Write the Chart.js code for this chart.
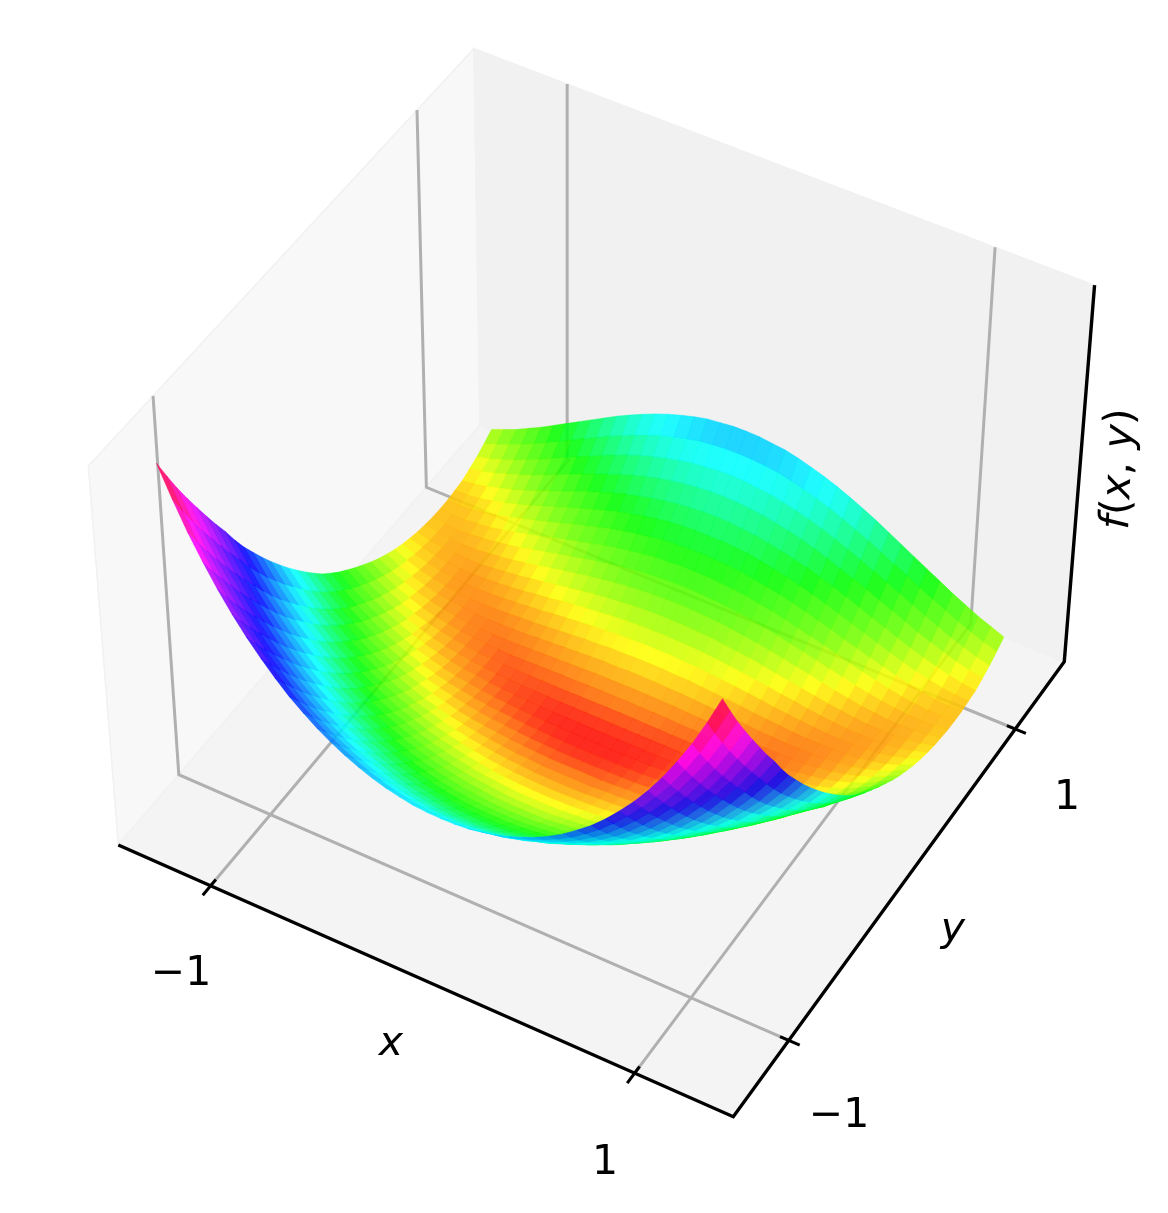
<!DOCTYPE html>
<html>
<head>
<meta charset="utf-8">
<title>f(x, y) surface</title>
<script src="https://cdn.jsdelivr.net/npm/chart.js@4/dist/chart.umd.min.js"></script>
<style>
  html, body { margin: 0; background: #fff; }
  canvas { display: block; }
</style>
</head>
<body>
<canvas id="chart" width="1168" height="1213"></canvas>
<script>
/* values */
const xGrid = [-1.27,-1.207,-1.144,-1.081,-1.018,-0.955,-0.892,-0.829,-0.766,-0.703,-0.64,-0.577,-0.514,-0.451,-0.388,-0.325,-0.262,-0.199,-0.136,-0.073,-0.01,
  0.053,0.116,0.179,0.242,0.305,0.368,0.431,0.494,0.557,0.62,0.683,0.746,0.809,0.872,0.935,0.998,1.061,1.124,1.187,1.25];
const yGrid = [-1.26,-1.197,-1.134,-1.071,-1.008,-0.945,-0.882,-0.819,-0.756,-0.693,-0.63,-0.567,-0.504,-0.441,-0.378,-0.315,-0.252,-0.189,-0.126,-0.063,0,
  0.063,0.126,0.189,0.252,0.315,0.378,0.441,0.504,0.567,0.63,0.693,0.756,0.819,0.882,0.945,1.008,1.071,1.134,1.197,1.26];
// one row per y, from the middle of x out to the edge, the surface is even in x
const zHalf = [
  [350,351,354,361,369,380,394,410,429,451,477,505,538,575,615,660,710,766,827,896,971],
  [318,319,322,329,336,347,360,376,394,415,440,467,499,534,573,616,664,718,777,843,915],
  [288,289,292,298,305,315,328,343,360,380,404,430,461,495,532,574,621,673,729,792,861],
  [260,260,263,269,276,286,297,312,328,347,370,395,424,457,493,534,578,629,683,744,811],
  [232,233,236,242,248,257,268,282,298,316,338,362,390,421,456,495,538,586,639,698,763],
  [207,208,210,216,222,230,241,254,269,286,307,330,356,386,420,457,499,545,596,653,716],
  [183,184,186,191,197,205,215,227,242,258,278,299,325,353,385,421,461,506,555,610,670],
  [161,162,164,168,174,182,191,202,216,231,250,271,295,322,353,387,425,468,515,568,627],
  [140,141,143,147,152,159,168,179,192,206,224,243,266,292,321,354,390,431,475,525,580],
  [121,122,124,128,132,139,147,157,169,183,200,218,239,264,292,323,357,396,437,485,537],
  [104,104,106,110,114,120,128,137,148,161,177,194,214,237,264,293,326,363,402,447,498],
  [88,88,90,94,97,103,110,119,129,141,155,171,190,212,237,265,296,332,369,412,460],
  [74,74,76,79,82,88,94,102,111,122,136,150,168,189,212,238,268,302,337,378,424],
  [61,62,63,66,69,74,80,87,95,105,118,131,148,167,189,213,241,273,307,346,390],
  [50,51,52,54,57,61,67,73,81,90,101,114,129,147,167,190,216,246,278,315,357],
  [41,41,42,45,47,51,55,61,68,76,87,98,112,128,147,168,193,221,251,286,326],
  [34,34,34,37,38,42,46,51,57,64,73,83,96,111,128,148,171,198,225,258,296],
  [28,28,28,30,32,34,38,42,47,53,62,71,82,96,112,130,151,176,202,233,268],
  [23,23,24,25,26,29,32,35,39,45,52,60,70,82,96,113,133,155,179,208,241],
  [21,21,21,22,23,25,27,30,33,38,44,50,59,70,83,98,116,138,160,187,218],
  [20,20,20,21,21,23,24,26,29,32,37,43,50,60,71,85,101,121,142,166,196],
  [21,21,21,21,21,22,23,24,26,28,33,37,43,51,61,73,87,105,125,149,177],
  [23,23,23,23,23,23,24,24,25,26,30,33,38,44,52,63,75,91,110,132,158],
  [28,28,27,27,26,26,26,26,26,26,28,30,34,39,46,54,65,79,96,116,141],
  [34,33,33,33,31,31,30,29,28,27,28,29,32,35,40,47,56,69,83,102,124],
  [41,41,40,40,38,37,35,34,32,31,30,30,31,33,37,42,50,60,73,89,109],
  [51,51,49,49,47,45,43,40,38,35,34,32,32,33,35,39,44,53,64,78,96],
  [62,62,60,60,57,55,52,49,45,42,40,37,35,35,35,37,41,48,56,69,84],
  [75,75,73,72,69,66,63,59,55,50,47,43,40,38,37,37,39,44,51,61,74],
  [90,89,88,86,83,79,75,71,66,60,56,50,46,43,40,39,39,42,47,55,66],
  [106,106,104,102,98,94,90,84,78,72,66,60,54,50,45,42,41,42,45,50,59],
  [125,124,122,120,116,111,106,100,93,86,79,71,64,58,52,48,44,44,44,48,55],
  [145,144,142,139,135,130,124,117,109,101,93,84,76,68,61,55,50,47,45,47,51],
  [166,166,163,161,156,150,144,136,127,118,109,99,89,80,71,63,56,52,48,48,50],
  [190,189,187,184,178,172,165,157,147,137,127,115,105,94,84,74,65,59,53,50,50],
  [215,215,212,209,203,196,188,179,169,158,146,134,122,109,97,86,75,67,59,55,53],
  [243,242,239,235,229,222,214,204,192,180,168,154,140,127,113,100,88,78,68,61,56],
  [274,273,270,266,259,252,243,232,220,206,193,178,163,148,133,118,105,93,81,72,65],
  [307,306,302,298,291,283,273,262,249,235,220,203,187,171,154,138,123,108,95,83,75],
  [341,340,337,333,325,316,306,294,280,264,249,231,213,195,177,160,143,127,112,99,88],
  [378,377,373,369,361,351,340,327,312,296,279,260,241,222,203,184,165,148,131,117,103]
];
const zRows = zHalf.map(r => [...r.slice(1).reverse(), ...r]);
const xLim = [-1.45, 1.45];
const yLim = [-1.46, 1.46];
const zLim = [0, 1000];
const xTicks = [-1, 1];
const yTicks = [-1, 1];

/* colormap: z -> position on the rainbow */
const cmapZ = [0, 20, 24, 30, 40, 50, 70, 89, 120, 200, 300, 370, 500, 700, 800, 900, 1000];
const cmapC = [0, 0.005, 0.035, 0.07, 0.1, 0.125, 0.17, 0.21, 0.26, 0.35, 0.48, 0.54, 0.65, 0.78, 0.85, 0.93, 0.99];

/* camera fitted to the box corners */
const cam = {
  a: 586.9, b: 397.33, c: 118.3, p: -35.39,
  d: 228.93, e: -388.45, f: 845, q: -407.43,
  g: -0.0383, h: 0.07424, i: -0.061
};

function project(x, y, z) {
  const u = (x - xLim[0]) / (xLim[1] - xLim[0]);
  const v = (y - yLim[0]) / (yLim[1] - yLim[0]);
  const w = (z - zLim[0]) / (zLim[1] - zLim[0]);
  const D = 1 + cam.g * u + cam.h * v + cam.i * w;
  return {
    x: (cam.a * u + cam.b * v + cam.c + cam.p * w) / D,
    y: (cam.d * u + cam.e * v + cam.f + cam.q * w) / D,
    depth: D
  };
}

function colorFor(z, alpha) {
  let k = 0;
  while (k < cmapZ.length - 2 && z > cmapZ[k + 1]) k++;
  const t = (z - cmapZ[k]) / (cmapZ[k + 1] - cmapZ[k]);
  const c = cmapC[k] + t * (cmapC[k + 1] - cmapC[k]);
  return `hsla(${(c * 360).toFixed(1)},100%,50%,${alpha})`;
}

function polyDataset(pts, fillColor, lineColor, lineWidth) {
  return {
    data: pts.map(p => ({ x: p.x, y: p.y })),
    showLine: true, pointRadius: 0, tension: 0,
    fill: fillColor ? "shape" : false,
    backgroundColor: fillColor || "transparent",
    borderColor: lineColor, borderWidth: lineWidth,
    borderCapStyle: "butt"
  };
}

/* surface cells, painter's order */
const cells = [];
for (let j = 0; j < yGrid.length - 1; j++) {
  for (let k = 0; k < xGrid.length - 1; k++) {
    const corners = [
      project(xGrid[k], yGrid[j], zRows[j][k]),
      project(xGrid[k + 1], yGrid[j], zRows[j][k + 1]),
      project(xGrid[k + 1], yGrid[j + 1], zRows[j + 1][k + 1]),
      project(xGrid[k], yGrid[j + 1], zRows[j + 1][k])
    ];
    const zMean = (zRows[j][k] + zRows[j][k + 1] + zRows[j + 1][k + 1] + zRows[j + 1][k]) / 4;
    const depth = corners.reduce((s, p) => s + p.depth, 0) / 4;
    cells.push({ pts: [...corners, corners[0]], color: colorFor(zMean, 0.87), depth });
  }
}
cells.sort((a, b) => a.depth - b.depth); // nearest first, chart.js paints dataset 0 last

const datasets = cells.map(c => polyDataset(c.pts, c.color, c.color, 0.5));

/* axis lines and ticks */
const [x0, x1] = xLim, [y0, y1] = yLim, [z0, z1] = zLim;
const AXIS = "#000000", GRID = "#b0b0b0";
datasets.push(polyDataset([project(x0, y0, z0), project(x1, y0, z0), project(x1, y1, z0), project(x1, y1, z1)], null, AXIS, 3.4));
xTicks.forEach(t => datasets.push(polyDataset([project(t, y0 - 0.06, z0), project(t, y0 + 0.04, z0)], null, AXIS, 3)));
yTicks.forEach(t => datasets.push(polyDataset([project(x1 - 0.04, t, z0), project(x1 + 0.05, t, z0)], null, AXIS, 3)));

/* grid */
xTicks.forEach(t => datasets.push(polyDataset([project(t, y0, z0), project(t, y1, z0), project(t, y1, z1)], null, GRID, 3)));
yTicks.forEach(t => datasets.push(polyDataset([project(x1, t, z0), project(x0, t, z0), project(x0, t, z1)], null, GRID, 3)));

/* panes */
const pane = (pts, col) => polyDataset([...pts, pts[0]], col, "#f1f1f1", 1.5);
datasets.push(pane([project(x0, y0, z0), project(x1, y0, z0), project(x1, y1, z0), project(x0, y1, z0)], "#f4f4f4"));
datasets.push(pane([project(x0, y1, z0), project(x1, y1, z0), project(x1, y1, z1), project(x0, y1, z1)], "#f1f1f1"));
datasets.push(pane([project(x0, y0, z0), project(x0, y1, z0), project(x0, y1, z1), project(x0, y0, z1)], "#f8f8f8"));

const UP = "41px 'DejaVu Sans'";
const IT = "italic 41px 'DejaVu Sans'";
const axisLabels = [
  { parts: [["\u22121", UP]], x: 181, y: 974 },
  { parts: [["1", UP]], x: 605, y: 1163 },
  { parts: [["\u22121", UP]], x: 839, y: 1116 },
  { parts: [["1", UP]], x: 1067, y: 798 },
  { parts: [["x", IT]], x: 391, y: 1044 },
  { parts: [["y", IT]], x: 953, y: 930 },
  { parts: [["f", IT], ["(", UP], ["x", IT], [", ", UP], ["y", IT], [")", UP]], x: 1120, y: 469, rotate: -87.5 * Math.PI / 180 }
];

const labelPlugin = {
  id: "labels",
  afterDraw(chart) {
    const { ctx, scales } = chart;
    ctx.save();
    ctx.fillStyle = "#000";
    ctx.textAlign = "left";
    ctx.textBaseline = "middle";
    axisLabels.forEach(l => {
      ctx.save();
      ctx.translate(scales.x.getPixelForValue(l.x), scales.y.getPixelForValue(l.y));
      if (l.rotate) ctx.rotate(l.rotate);
      const width = l.parts.reduce((s, [t, f]) => { ctx.font = f; return s + ctx.measureText(t).width; }, 0);
      let pos = -width / 2;
      l.parts.forEach(([t, f]) => {
        ctx.font = f;
        ctx.fillText(t, pos, 0);
        pos += ctx.measureText(t).width;
      });
      ctx.restore();
    });
    ctx.restore();
  }
};

new Chart(document.getElementById("chart"), {
  type: "scatter",
  data: { datasets },
  options: {
    responsive: false,
    animation: false,
    events: [],
    layout: { padding: 0 },
    plugins: { legend: { display: false }, tooltip: { enabled: false } },
    scales: {
      x: { type: "linear", min: 0, max: 1168, display: false },
      y: { type: "linear", min: 0, max: 1213, reverse: true, display: false }
    }
  },
  plugins: [labelPlugin]
});
</script>
</body>
</html>
